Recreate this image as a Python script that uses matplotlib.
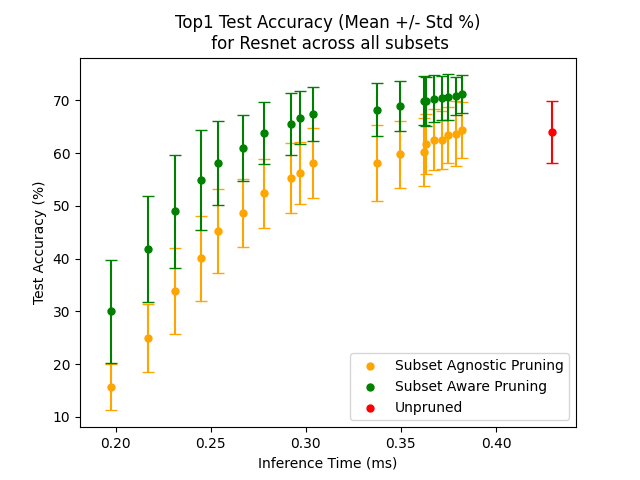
import numpy as np
from matplotlib import pyplot as plt

# inference time per pruned model (ms)
times = [0.1974, 0.2170, 0.2312, 0.2449, 0.2539, 0.2670, 0.2779, 0.2923, 0.2968,
         0.3039, 0.3375, 0.3496, 0.3623, 0.3632, 0.3675, 0.3716, 0.3749, 0.3791, 0.3823]

agnostic_mean = [15.6, 24.9, 33.8, 40.1, 45.2, 48.6, 52.4, 55.3, 56.2,
                 58.1, 58.1, 59.8, 60.2, 61.7, 62.5, 62.5, 63.5, 63.7, 64.4]
agnostic_std = [4.4, 6.45, 8.15, 8.05, 7.9, 6.4, 6.55, 6.65, 5.9,
                6.7, 7.2, 6.35, 6.4, 5.7, 5.8, 5.5, 5.3, 6.2, 5.35]

aware_mean = [30.0, 41.8, 49.0, 54.9, 58.1, 61.0, 63.8, 65.5, 66.7,
              67.4, 68.2, 68.9, 69.95, 69.8, 70.3, 70.45, 70.65, 70.85, 71.2]
aware_std = [9.8, 10.05, 10.7, 9.4, 7.9, 6.2, 5.9, 5.85, 5.05,
             5.1, 5.0, 4.75, 4.7, 4.6, 4.5, 4.25, 4.3, 3.6, 3.6]

unpruned_time = [0.4296]
unpruned_mean = [64.0]
unpruned_std = [5.9]

fig, ax = plt.subplots(figsize=(6.4, 4.8), dpi=100)

ax.scatter(times, agnostic_mean, s=25, color='orange', label='Subset Agnostic Pruning')
ax.errorbar(times, agnostic_mean, yerr=agnostic_std, fmt='none', ecolor='orange', capsize=4.5)

ax.scatter(times, aware_mean, s=25, color='green', label='Subset Aware Pruning')
ax.errorbar(times, aware_mean, yerr=aware_std, fmt='none', ecolor='green', capsize=4.5)

ax.scatter(unpruned_time, unpruned_mean, s=25, color='red', label='Unpruned')
ax.errorbar(unpruned_time, unpruned_mean, yerr=unpruned_std, fmt='none', ecolor='red', capsize=4.5)

ax.set_xlim(0.1812, 0.4421)
ax.set_ylim(8.03, 78.1)
ax.set_xlabel('Inference Time (ms)')
ax.set_ylabel('Test Accuracy (%)')
ax.set_title('Top1 Test Accuracy (Mean +/- Std %)\n for Resnet across all subsets')
ax.legend(loc='lower right')

plt.savefig('out.png')
